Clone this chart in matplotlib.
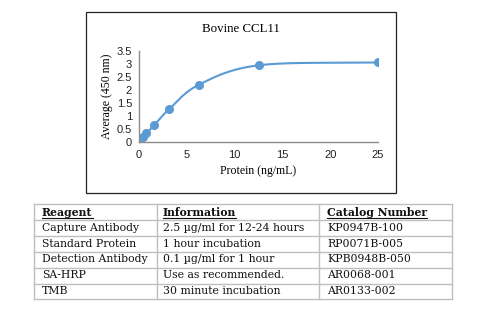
import numpy as np
import matplotlib
matplotlib.use("Agg")
import matplotlib.pyplot as plt
from matplotlib.patches import Rectangle
from matplotlib.lines import Line2D

# standard curve
protein = [0, 0.195, 0.39, 0.78, 1.56, 3.125, 6.25, 12.5, 25]
average = [0.10, 0.15, 0.21, 0.33, 0.64, 1.25, 2.20, 2.95, 3.06]

title = "Bovine CCL11"
xticks = [0, 5, 10, 15, 20, 25]
yticks = [0, 0.5, 1, 1.5, 2, 2.5, 3, 3.5]
ytick_labels = ["0", "0.5", "1", "1.5", "2", "2.5", "3", "3.5"]

headers = ["Reagent", "Information", "Catalog Number"]
reagents = ["Capture Antibody", "Standard Protein", "Detection Antibody", "SA-HRP", "TMB"]
info = ["2.5 µg/ml for 12-24 hours", "1 hour incubation", "0.1 µg/ml for 1 hour",
        "Use as recommended.", "30 minute incubation"]
catalog = ["KP0947B-100", "RP0071B-005", "KPB0948B-050", "AR0068-001", "AR0133-002"]

W, H = 500, 310
blue = "#5B9BD5"
serif = ["Liberation Serif", "DejaVu Serif"]
tfont = ["DejaVu Serif"]


def smooth(x, y, n=30):
    # catmull-rom style curve through the points, like a smoothed excel line
    x = np.asarray(x, float)
    y = np.asarray(y, float)
    px = np.concatenate([[2 * x[0] - x[1]], x, [2 * x[-1] - x[-2]]])
    py = np.concatenate([[2 * y[0] - y[1]], y, [2 * y[-1] - y[-2]]])
    xs, ys = [], []
    t = np.linspace(0, 1, n)
    for i in range(1, len(px) - 2):
        for p, out in ((px, xs), (py, ys)):
            p0, p1, p2, p3 = p[i - 1], p[i], p[i + 1], p[i + 2]
            m1 = (p2 - p0) / 6.0
            m2 = (p3 - p1) / 6.0
            c1 = p1 + m1
            c2 = p2 - m2
            out.extend((1 - t) ** 3 * p1 + 3 * (1 - t) ** 2 * t * c1
                       + 3 * (1 - t) * t ** 2 * c2 + t ** 3 * p2)
    return np.array(xs), np.array(ys)


fig = plt.figure(figsize=(W / 100, H / 100), dpi=100)

def fx(px):
    return px / W

def fy(py):
    return 1 - py / H

# chart border
fig.patches.append(Rectangle((fx(86), fy(193)), fx(396) - fx(86), fy(12) - fy(193),
                             transform=fig.transFigure, fill=False,
                             edgecolor="#222222", linewidth=0.9))

ax = fig.add_axes([fx(139), fy(142), fx(378) - fx(139), fy(51) - fy(142)])
sx, sy = smooth(protein, average)
ax.plot(sx, sy, color=blue, linewidth=1.5, solid_capstyle="round")
ax.plot(protein, average, "o", color=blue, markersize=5.5)
ax.set_xlim(0, 25)
ax.set_ylim(0, 3.5)
ax.set_xticks(xticks)
ax.set_yticks(yticks)
ax.set_yticklabels(ytick_labels)
ax.tick_params(length=0, labelsize=8, colors="#222222")
ax.tick_params(axis="x", pad=6)
ax.tick_params(axis="y", pad=5)
for lab in ax.get_xticklabels() + ax.get_yticklabels():
    lab.set_family(["Liberation Sans", "DejaVu Sans"])
ax.spines["top"].set_visible(False)
ax.spines["right"].set_visible(False)
for s in ("left", "bottom"):
    ax.spines[s].set_color("#8C8C8C")
    ax.spines[s].set_linewidth(1.0)
ax.patch.set_visible(False)

fig.text(fx(241), fy(29), title, ha="center", va="center", fontsize=9.3, family=serif)
fig.text(fx(258), fy(171), "Protein (ng/mL)", ha="center", va="center", fontsize=8.5, family=serif)
fig.text(fx(107), fy(96), "Average (450 nm)", ha="center", va="center", rotation=90,
         fontsize=8.5, family=serif)

# table
col_x = [34, 157, 319, 452]
row_y = [204, 220, 236, 251.5, 267.5, 283.5, 299]
grid = "#BFBFBF"
for xx in col_x:
    fig.add_artist(Line2D([fx(xx), fx(xx)], [fy(row_y[0]), fy(row_y[-1])],
                          transform=fig.transFigure, color=grid, linewidth=1.0))
for yy in row_y:
    fig.add_artist(Line2D([fx(col_x[0]), fx(col_x[-1])], [fy(yy), fy(yy)],
                          transform=fig.transFigure, color=grid, linewidth=1.0))

pad = [8, 6, 8]
rows = [headers] + [list(r) for r in zip(reagents, info, catalog)]
head_texts = []
for r, row in enumerate(rows):
    yc = (row_y[r] + row_y[r + 1]) / 2
    for c, val in enumerate(row):
        t = fig.text(fx(col_x[c] + pad[c]), fy(yc), val, ha="left", va="center",
                     fontsize=7.8, family=tfont,
                     fontweight="bold" if r == 0 else "normal", color="#111111")
        if r == 0:
            head_texts.append(t)

renderer = fig.canvas.get_renderer()
for t in head_texts:
    bb = t.get_window_extent(renderer)
    uy = fy(217.5)
    fig.add_artist(Line2D([bb.x0 / W, bb.x1 / W], [uy, uy], transform=fig.transFigure,
                          color="#111111", linewidth=0.8))

fig.savefig("out.png", dpi=100)
